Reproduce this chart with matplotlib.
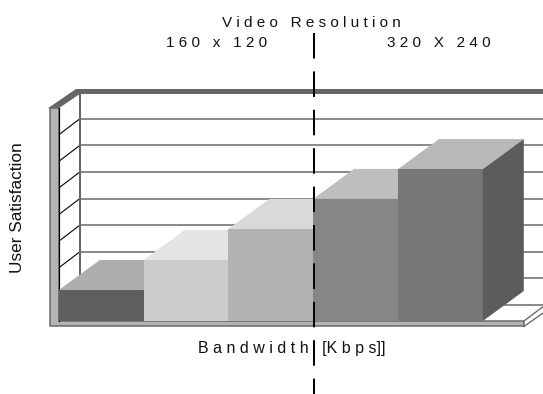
import matplotlib
matplotlib.use("Agg")
import matplotlib.pyplot as plt
from matplotlib.patches import Polygon

plt.rcParams['font.family'] = ['Liberation Sans', 'DejaVu Sans']
plt.rcParams['lines.scale_dashes'] = False

# data
values = [1.165, 2.29, 3.46, 4.59, 5.71]
front_colors = ['#5f5f5f', '#cccccc', '#b2b2b2', '#868686', '#777777']
top_colors = ['#aeaeae', '#e4e4e4', '#d9d9d9', '#bebebe', '#b8b8b8']
side_color = '#5c5c5c'
grid_levels = [1, 2, 3, 4, 5, 6, 7]
y_max = 8

# layout (pixels)
W, H = 543, 394
xu, yu = 84.8, 26.6
x0_px, y0_px = 58.8, 321
to_x = lambda px: (px - x0_px) / xu
to_y = lambda px: (y0_px - px) / yu
wall_dx, wall_dy = 21 / xu, 16 / yu
bar_dx, bar_dy = 41 / xu, 30 / yu
px_w = 0.72

fig = plt.figure(figsize=(W / 100, H / 100), dpi=100)
ax = fig.add_axes([0, 0, 1, 1])
ax.set_xlim(to_x(0), to_x(W))
ax.set_ylim(to_y(H), to_y(0))
ax.axis('off')
right_edge = to_x(W)
n = len(values)
GR = '#666666'

# back wall grid
for g in grid_levels:
    ax.plot([wall_dx, right_edge], [g + wall_dy] * 2, color=GR, lw=1.5 * px_w, zorder=1)
    ax.plot([0, wall_dx], [g, g + wall_dy], color='black', lw=1.1 * px_w, zorder=1)
ax.plot([wall_dx, right_edge], [wall_dy] * 2, color=GR, lw=1.5 * px_w, zorder=1)
ax.plot([wall_dx, wall_dx], [wall_dy, y_max + wall_dy], color=GR, lw=2 * px_w, zorder=1)

# top band
ax.add_patch(Polygon([(to_x(48), y_max), (0, y_max), (wall_dx, to_y(94)),
                      (right_edge, to_y(94)), (right_edge, to_y(89)), (to_x(76), to_y(89))],
                     closed=True, fc=GR, ec='none', zorder=2))

# left and bottom slabs
ax.add_patch(Polygon([(to_x(50), to_y(326)), (to_x(50), y_max), (0, y_max), (0, 0),
                      (to_x(524), 0), (to_x(524), to_y(326))],
                     closed=True, fc='#b4b4b4', ec=GR, lw=1.5 * px_w, zorder=3))
ax.plot([0, 0], [0, y_max], color='black', lw=1.2 * px_w, zorder=4)

# right floor edge
ax.plot([to_x(524), right_edge], [0, to_y(306.7)], color=GR, lw=1.3 * px_w, zorder=3)
ax.plot([to_x(524), right_edge], [to_y(326.5), to_y(313)], color=GR, lw=1.3 * px_w, zorder=3)

# bars
xs = list(range(n))
ax.bar(xs, values, width=1.0, align='edge', color=front_colors, linewidth=0, zorder=6)
for x, v, c in zip(xs, values, top_colors):
    ax.add_patch(Polygon([(x, v), (x + bar_dx, v + bar_dy), (x + 1 + bar_dx, v + bar_dy), (x + 1, v)],
                         closed=True, fc=c, ec='none', zorder=5))
ax.add_patch(Polygon([(n, 0), (n + bar_dx, bar_dy), (n + bar_dx, values[-1] + bar_dy), (n, values[-1])],
                     closed=True, fc=side_color, ec='none', zorder=6))

# divider
ax.plot([to_x(313.5)] * 2, [to_y(33), to_y(394)], color='black', lw=2 * px_w,
        linestyle=(0, (25.5 * px_w, 12.9 * px_w)), dash_capstyle='butt', zorder=8)

# text
T = '#111111'
ax.text(to_x(311), to_y(23), 'V i d e o   R e s o l u t i o n', ha='center', va='center', fontsize=11, color=T, zorder=9)
ax.text(to_x(217), to_y(43), '1 6 0   x   1 2 0', ha='center', va='center', fontsize=11, color=T, zorder=9)
ax.text(to_x(439), to_y(43), '3 2 0   X   2 4 0', ha='center', va='center', fontsize=11, color=T, zorder=9)
ax.text(to_x(291.5), to_y(349), 'B a n d w i d t h   [K b p s]]', ha='center', va='center', fontsize=11.5, color=T, zorder=9)
ax.text(to_x(17.5), to_y(208), 'User Satisfaction', rotation=90, ha='center', va='center', fontsize=12.4, color=T, zorder=9)

fig.savefig('out.png', dpi=100)
